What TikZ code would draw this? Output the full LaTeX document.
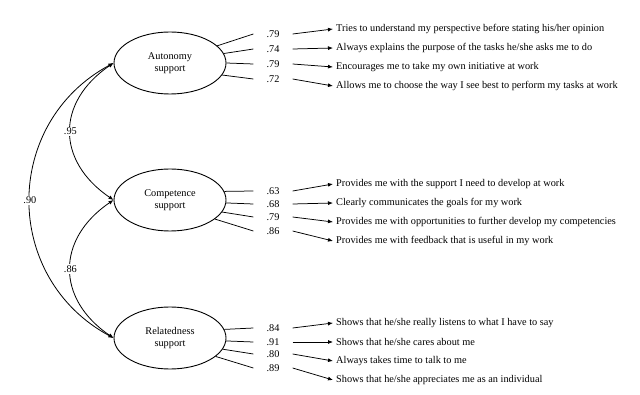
\documentclass[tikz,border=0pt]{standalone}
\usepackage{fontspec}
\setmainfont{Liberation Serif}
\usetikzlibrary{arrows.meta,positioning,shapes.geometric}

\begin{document}
\begin{tikzpicture}[x=1pt, y=-1pt, font=\fontsize{10.3}{11.8}\selectfont,
    factor/.style={draw, ellipse, line width=0.9pt, minimum width=112pt, minimum height=62pt, inner sep=0pt, align=center},
    loading/.style={inner xsep=13pt, inner ysep=1pt},
    item/.style={anchor=west, inner sep=3pt},
    path/.style={line width=0.75pt},
    arr/.style={line width=0.75pt, -{Latex[length=5pt, width=4pt]}},
    cov/.style={line width=0.8pt, {Latex[length=5pt, width=4pt]}-{Latex[length=5pt, width=4pt]}},
    covlabel/.style={fill=white, inner sep=1.5pt}]
    \useasboundingbox (0,0) rectangle (640,395);

    % Factors
    \node[factor] (aut) at (170,63) {Autonomy\\support};
    \node[factor] (comp) at (170,200) {Competence\\support};
    \node[factor] (rel) at (170,338) {Relatedness\\support};

    % Loadings, autonomy
    \node[loading] (a1) at (273,34) {.79};
    \node[loading] (a2) at (273,49) {.74};
    \node[loading] (a3) at (273,64) {.79};
    \node[loading] (a4) at (273,79) {.72};

    % Loadings, competence
    \node[loading] (c1) at (273,191) {.63};
    \node[loading] (c2) at (273,204) {.68};
    \node[loading] (c3) at (273,217) {.79};
    \node[loading] (c4) at (273,231) {.86};

    % Loadings, relatedness
    \node[loading] (r1) at (273,328) {.84};
    \node[loading] (r2) at (273,342) {.91};
    \node[loading] (r3) at (273,354) {.80};
    \node[loading] (r4) at (273,368) {.89};

    % Items, autonomy
    \node[item] (ia1) at (333,29) {Tries to understand my perspective before stating his/her opinion};
    \node[item] (ia2) at (333,48) {Always explains the purpose of the tasks he/she asks me to do};
    \node[item] (ia3) at (333,67) {Encourages me to take my own initiative at work};
    \node[item] (ia4) at (333,86) {Allows me to choose the way I see best to perform my tasks at work};

    % Items, competence
    \node[item] (ic1) at (333,184) {Provides me with the support I need to develop at work};
    \node[item] (ic2) at (333,203) {Clearly communicates the goals for my work};
    \node[item] (ic3) at (333,222) {Provides me with opportunities to further develop my competencies};
    \node[item] (ic4) at (333,241) {Provides me with feedback that is useful in my work};

    % Items, relatedness
    \node[item] (ir1) at (333,323) {Shows that he/she really listens to what I have to say};
    \node[item] (ir2) at (333,342) {Shows that he/she cares about me};
    \node[item] (ir3) at (333,361) {Always takes time to talk to me};
    \node[item] (ir4) at (333,380) {Shows that he/she appreciates me as an individual};

    % Factor to loading
    \draw[path] (aut.20) -- (a1.west);
    \draw[path] (aut.10) -- (a2.west);
    \draw[path] (aut.0) -- (a3.west);
    \draw[path] (aut.-13) -- (a4.west);
    \draw[path] (comp.9) -- (c1.west);
    \draw[path] (comp.-3) -- (c2.west);
    \draw[path] (comp.-13) -- (c3.west);
    \draw[path] (comp.-23) -- (c4.west);
    \draw[path] (rel.9) -- (r1.west);
    \draw[path] (rel.-3) -- (r2.west);
    \draw[path] (rel.-12) -- (r3.west);
    \draw[path] (rel.-22) -- (r4.west);

    % Loading to item
    \draw[arr] (a1.east) -- (ia1.west);
    \draw[arr] (a2.east) -- (ia2.west);
    \draw[arr] (a3.east) -- (ia3.west);
    \draw[arr] (a4.east) -- (ia4.west);
    \draw[arr] (c1.east) -- (ic1.west);
    \draw[arr] (c2.east) -- (ic2.west);
    \draw[arr] (c3.east) -- (ic3.west);
    \draw[arr] (c4.east) -- (ic4.west);
    \draw[arr] (r1.east) -- (ir1.west);
    \draw[arr] (r2.east) -- (ir2.west);
    \draw[arr] (r3.east) -- (ir3.west);
    \draw[arr] (r4.east) -- (ir4.west);

    % Correlations
    \draw[cov] (aut.west) .. controls (56,102) and (56,161) .. node[covlabel] (k95) {.95} (comp.west);
    \draw[cov] (comp.west) .. controls (56,239) and (56,299) .. node[covlabel] (k86) {.86} (rel.west);
    \draw[cov] (aut.west) .. controls (2,123) and (2,278) .. node[covlabel] (k90) {.90} (rel.west);
\end{tikzpicture}
\end{document}
